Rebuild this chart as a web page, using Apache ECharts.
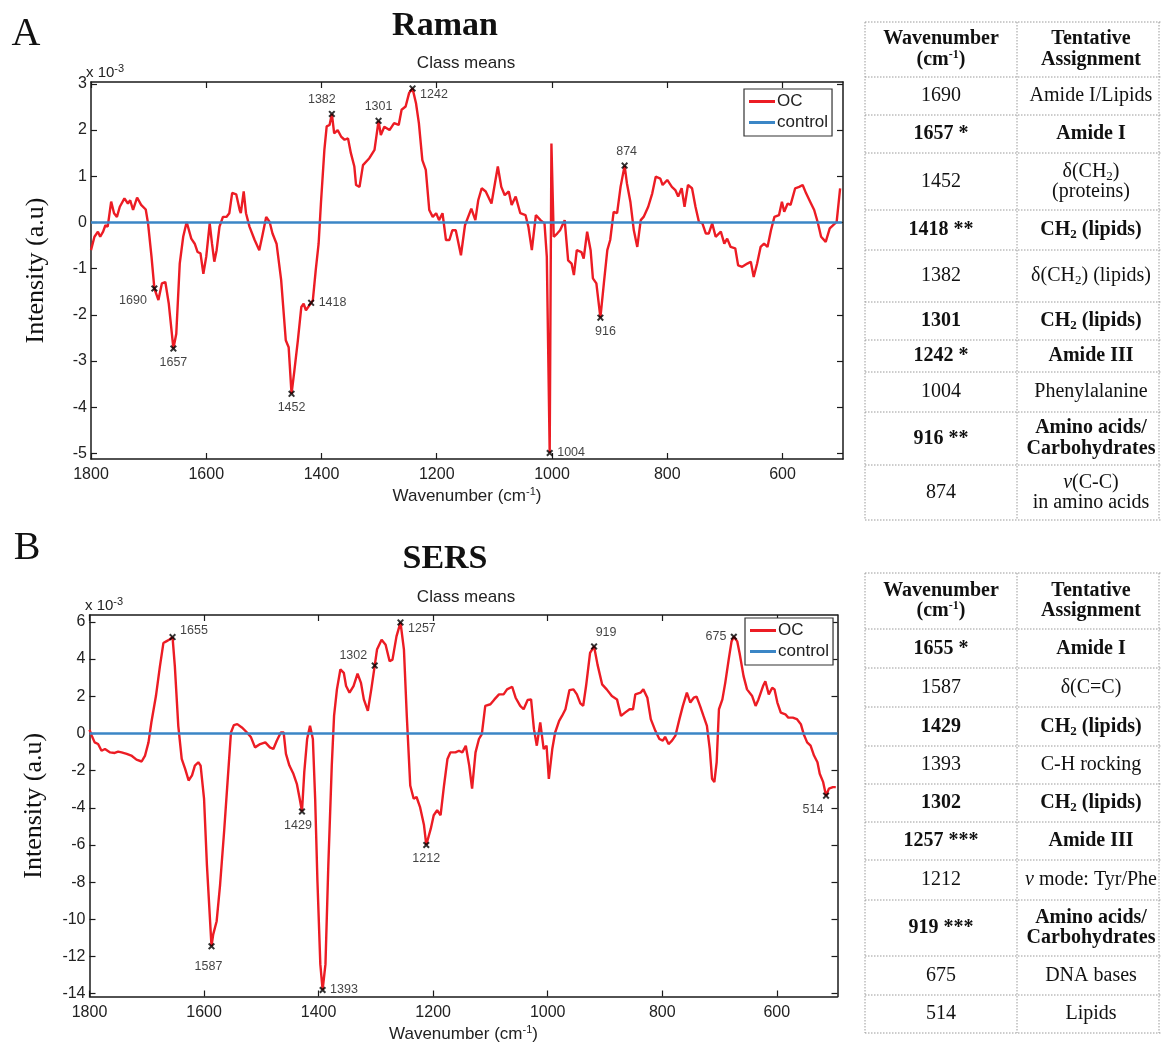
<!DOCTYPE html>
<html><head><meta charset="utf-8">
<script src="https://cdn.jsdelivr.net/npm/echarts@6/dist/echarts.min.js"></script>
<style>html,body{margin:0;padding:0;background:#fff}#c{width:1161px;height:1045px}</style>
</head><body><div id="c"></div>
<script>
// ---------------- DATA ----------------
// Raman class-mean difference (OC), x10^-3
const ramanWn = [1800,1794,1788,1784,1779,1775,1771,1765,1760,1755,1750,1742,1736,1732,1727,1720,1713,1705,1701,1695,1690,1683,1677,1671,1665,1657,1652,1646,1640,1634,1626,1620,1615,1610,1605,1600,1594,1590,1586,1582,1577,1571,1565,1560,1555,1548,1542,1540,1535,1531,1525,1516,1508,1503,1496,1490,1485,1478,1470,1462,1457,1452,1447,1441,1435,1431,1427,1418,1415,1410,1405,1401,1395,1391,1386,1382,1378,1372,1366,1360,1354,1349,1343,1340,1334,1328,1317,1308,1301,1297,1291,1282,1274,1266,1261,1254,1248,1242,1236,1231,1225,1219,1213,1207,1201,1196,1190,1184,1178,1173,1167,1158,1151,1140,1133,1128,1122,1115,1105,1099,1094,1088,1082,1075,1070,1063,1055,1046,1041,1035,1028,1020,1013,1009,1004,1001,997,991,986,978,972,966,962,957,949,945,939,933,929,923,916,910,904,899,893,887,881,874,870,864,858,852,846,841,833,826,820,812,808,800,792,786,781,775,770,764,757,751,745,739,733,728,722,716,707,701,696,690,682,677,670,661,655,650,644,638,632,626,620,614,606,601,597,591,586,578,571,565,559,552,545,539,533,525,518,512,506,500];
const ramanOC = [-0.60,-0.31,-0.20,-0.31,-0.20,-0.06,-0.09,0.45,0.20,0.12,0.34,0.52,0.41,0.48,0.27,0.54,0.38,0.28,-0.02,-0.74,-1.43,-1.68,-1.32,-1.29,-1.76,-2.73,-2.41,-0.89,-0.31,0.01,-0.35,-0.46,-0.64,-0.67,-1.11,-0.74,-0.02,-0.46,-0.85,-0.60,-0.09,0.12,0.12,0.20,0.64,0.61,0.27,0.20,0.67,0.20,-0.09,-0.38,-0.60,-0.31,0.12,0.01,-0.24,-0.46,-1.25,-2.55,-2.70,-3.71,-3.20,-2.55,-1.83,-1.76,-1.90,-1.74,-1.68,-1.03,-0.46,0.41,1.57,2.08,2.11,2.35,1.93,2.00,1.86,1.79,1.82,1.50,1.21,0.81,0.77,1.24,1.39,1.57,2.20,1.89,2.07,2.00,2.15,2.11,2.44,2.51,2.80,2.90,2.58,2.15,1.35,1.14,0.27,0.12,0.20,0.05,0.20,-0.38,-0.38,-0.17,-0.17,-0.71,-0.06,0.30,0.05,0.48,0.74,0.67,0.41,0.85,1.21,0.77,0.59,0.67,0.38,0.56,0.20,0.16,-0.09,-0.60,0.16,0.05,-0.02,-0.74,-4.99,1.71,-0.31,-0.24,-0.17,0.05,-0.82,-0.89,-1.14,-0.60,-0.64,-0.78,-0.20,-0.60,-1.21,-1.32,-2.06,-1.32,-0.60,-0.38,0.23,0.20,0.77,1.23,0.85,0.45,-0.17,-0.53,0.05,0.12,0.34,0.63,0.99,0.95,0.81,0.92,0.77,0.70,0.56,0.74,0.34,0.81,0.74,0.34,0.01,-0.02,-0.24,-0.24,-0.02,-0.31,-0.20,-0.46,-0.35,-0.53,-0.56,-0.93,-0.96,-0.89,-0.85,-1.18,-0.89,-0.53,-0.46,-0.53,-0.17,0.12,0.16,0.45,0.23,0.41,0.38,0.74,0.77,0.81,0.63,0.45,0.27,0.01,-0.31,-0.42,-0.13,-0.06,0.01,0.74];
const ramanControlWn = [1800, 497];
const ramanControl = [0, 0];
const ramanPeakWn = [1690,1657,1452,1418,1382,1301,1242,1004,916,874];
const ramanPeakVal = [-1.43,-2.73,-3.71,-1.74,2.35,2.20,2.90,-4.99,-2.06,1.23];
const ramanYTicks = [-5,-4,-3,-2,-1,0,1,2,3];

// SERS class-mean difference (OC), x10^-3
const sersWn = [1800,1796,1791,1785,1779,1773,1764,1756,1750,1744,1735,1727,1718,1709,1703,1697,1692,1684,1677,1671,1666,1661,1655,1651,1645,1639,1633,1627,1621,1616,1610,1606,1600,1595,1587,1584,1578,1572,1565,1559,1553,1548,1542,1534,1525,1518,1511,1502,1493,1485,1479,1473,1466,1461,1457,1451,1444,1438,1433,1429,1425,1420,1415,1410,1406,1402,1397,1393,1388,1383,1377,1373,1368,1362,1356,1352,1346,1339,1332,1326,1321,1314,1308,1302,1298,1290,1283,1276,1271,1264,1257,1251,1246,1240,1234,1229,1223,1216,1212,1204,1199,1193,1187,1181,1175,1170,1161,1155,1149,1143,1137,1132,1126,1120,1115,1109,1100,1093,1085,1077,1071,1062,1056,1048,1042,1035,1029,1024,1019,1013,1010,1007,1002,998,992,987,980,975,969,962,955,949,943,938,933,926,919,913,905,897,888,879,872,865,857,851,847,838,833,826,820,812,805,799,795,789,783,777,770,764,757,751,745,740,734,728,722,717,713,709,705,701,695,690,684,679,675,669,665,658,652,643,637,632,624,620,614,608,604,599,593,585,580,572,565,558,553,547,541,535,529,525,519,514,509,502,497];
const sersOC = [0.20,-0.12,-0.48,-0.57,-0.93,-0.84,-1.02,-1.05,-0.98,-1.02,-1.10,-1.19,-1.41,-1.51,-1.19,-0.48,0.59,2.01,3.62,4.86,4.95,5.04,5.18,3.62,0.41,-1.37,-1.91,-2.53,-2.26,-1.73,-1.55,-1.73,-3.51,-7.07,-11.45,-10.81,-10.10,-8.14,-5.29,-2.62,0.05,0.45,0.50,0.32,0.05,-0.21,-0.75,-0.57,-0.48,-0.75,-0.84,-0.39,0.05,0.05,-1.10,-1.73,-2.17,-2.71,-3.51,-4.20,-2.08,-0.30,0.41,-0.30,-3.51,-7.96,-12.41,-13.80,-12.41,-7.07,-1.73,0.94,2.37,3.44,3.26,2.55,2.19,2.55,3.22,2.72,1.83,1.21,2.37,3.65,4.51,5.04,4.77,3.88,3.97,5.22,5.97,4.51,0.94,-2.80,-3.51,-3.42,-3.95,-4.93,-6.00,-5.11,-4.40,-4.13,-4.40,-2.80,-1.37,-1.02,-1.02,-0.93,-1.02,-0.66,-1.73,-2.97,-1.02,-0.30,-0.04,1.48,1.57,1.83,2.10,2.10,2.37,2.51,1.92,1.48,1.30,1.80,1.83,0.23,-0.66,0.59,0.68,-0.84,-0.66,-2.44,-0.84,0.05,0.68,0.94,1.30,2.33,2.37,2.10,1.62,1.48,2.55,4.33,4.68,3.70,2.64,2.37,2.01,1.83,0.94,1.12,1.30,1.30,2.10,2.19,2.37,1.92,0.77,0.14,-0.30,-0.39,-0.18,-0.57,-0.39,-0.12,0.77,1.48,2.19,1.66,1.92,1.98,1.48,0.94,0.41,-0.84,-2.44,-2.62,-1.55,1.30,1.83,2.72,3.97,4.95,5.20,4.95,4.33,3.08,2.37,2.01,1.48,1.83,2.55,2.81,2.10,2.46,2.37,1.66,1.12,1.03,0.85,0.85,0.77,0.50,-0.04,-0.48,-0.66,-1.19,-1.55,-2.17,-2.62,-3.35,-2.97,-2.89,-2.89];
const sersControlWn = [1800, 494];
const sersControl = [0, 0];
const sersPeakWn = [1655,1587,1429,1393,1302,1257,1212,919,675,514];
const sersPeakVal = [5.18,-11.45,-4.20,-13.80,3.65,5.97,-6.00,4.68,5.20,-3.35];
const sersYTicks = [-14,-12,-10,-8,-6,-4,-2,0,2,4,6];

const xTicks = [1800,1600,1400,1200,1000,800,600];
const seriesNames = ['OC','control'];

// Tables
const ramanTableWn = ['1690','1657 *','1452','1418 **','1382','1301','1242 *','1004','916 **','874'];
const ramanTableAssign = ['Amide I/Lipids','Amide I','δ(CH{S|2})\n(proteins)','CH{S|2} (lipids)','δ(CH{S|2}) (lipids)','CH{S|2} (lipids)','Amide III','Phenylalanine','Amino acids/\nCarbohydrates','{I|v}(C-C)\nin amino acids'];
const ramanTableBold = [false,true,false,true,false,true,true,false,true,false];
const sersTableWn = ['1655 *','1587','1429','1393','1302','1257 ***','1212','919 ***','675','514'];
const sersTableAssign = ['Amide I','δ(C=C)','CH{S|2} (lipids)','C-H rocking','CH{S|2} (lipids)','Amide III','{I|v} mode: Tyr/Phe','Amino acids/\nCarbohydrates','DNA bases','Lipids'];
const sersTableBold = [true,false,true,false,true,true,false,true,false,false];
const tableHeader = ['Wavenumber\n(cm{P|-1})','Tentative\nAssignment'];

// ---------------- LAYOUT / STYLE ----------------
const SANS = '"Liberation Sans", Arial, Helvetica, sans-serif';
const SERIF = '"Liberation Serif", "Times New Roman", Times, serif';
const RED = '#ec1c24';
const BLUE = '#3b86c6';
const AX = '#1a1a1a';
const XPATH = 'path://M0,2L2,0L5,3L8,0L10,2L7,5L10,8L8,10L5,7L2,10L0,8L3,5Z';

const ramanLabelPlace = [['left',[0,12]],['bottom',[0,0]],['bottom',[0,0]],['right',[0,0]],['top',[-10,0]],['top',[0,0]],['right',[0,6]],['right',[0,0]],['bottom',[5,0]],['top',[2,0]]];
const sersLabelPlace = [['right',[0,-7]],['bottom',[-3,6]],['bottom',[-4,0]],['right',[0,0]],['left',[0,-10]],['right',[0,6]],['bottom',[0,0]],['top',[12,0]],['left',[0,0]],['bottom',[-13,0]]];

const grids = [
  {left: 91, top: 82, width: 752, height: 377},
  {left: 89.5, top: 615, width: 748, height: 384}
];
const xRanges = [[495, 1800], [494, 1800]];
const yRanges = [[-5.12, 3.04], [-14.15, 6.37]];
const yTicksAll = [ramanYTicks, sersYTicks];

const xAxis = [], yAxis = [];
for (let g = 0; g < 2; g++) {
  const lineStyle = {color: AX, width: 1.5};
  xAxis.push({
    type: 'value', gridIndex: g, min: xRanges[g][0], max: xRanges[g][1], inverse: true, position: 'bottom',
    axisLine: {show: true, onZero: false, lineStyle},
    axisTick: {show: true, inside: true, length: 6, customValues: xTicks, lineStyle: {color: AX, width: 1.2}},
    axisLabel: {customValues: xTicks, formatter: v => String(v), fontSize: 16, fontFamily: SANS, color: '#222', margin: 8},
    splitLine: {show: false},
    name: 'Wavenumber (cm{p|-1})', nameLocation: 'middle', nameGap: 29,
    nameTextStyle: {fontSize: 17, fontFamily: SANS, color: '#222',
      rich: {p: {fontSize: 11, fontFamily: SANS, color: '#222', padding: [0, 0, 9, 0], lineHeight: 10}}}
  });
  xAxis.push({
    type: 'value', gridIndex: g, min: xRanges[g][0], max: xRanges[g][1], inverse: true, position: 'top',
    axisLine: {show: true, onZero: false, lineStyle},
    axisTick: {show: true, inside: true, length: 6, customValues: xTicks, lineStyle: {color: AX, width: 1.2}},
    axisLabel: {show: false}, splitLine: {show: false}
  });
  yAxis.push({
    type: 'value', gridIndex: g, min: yRanges[g][0], max: yRanges[g][1], position: 'left',
    axisLine: {show: true, onZero: false, lineStyle},
    axisTick: {show: true, inside: true, length: 6, customValues: yTicksAll[g], lineStyle: {color: AX, width: 1.2}},
    axisLabel: {customValues: yTicksAll[g], formatter: v => String(v), fontSize: 16, fontFamily: SANS, color: '#222', margin: 4},
    splitLine: {show: false},
    name: 'Intensity (a.u)', nameLocation: 'middle', nameGap: 42,
    nameTextStyle: {fontSize: 26, fontFamily: SERIF, color: '#111'}
  });
  yAxis.push({
    type: 'value', gridIndex: g, min: yRanges[g][0], max: yRanges[g][1], position: 'right',
    axisLine: {show: true, onZero: false, lineStyle},
    axisTick: {show: true, inside: true, length: 6, customValues: yTicksAll[g], lineStyle: {color: AX, width: 1.2}},
    axisLabel: {show: false}, splitLine: {show: false}
  });
}

function lineSeries(name, wn, vals, axisIdx, color) {
  return {
    type: 'line', name, xAxisIndex: axisIdx, yAxisIndex: axisIdx,
    data: wn.map((w, i) => [w, vals[i]]),
    showSymbol: false, symbol: 'none', animation: false,
    lineStyle: {color, width: 2.4}, itemStyle: {color}, z: 3
  };
}
function peakSeries(wn, vals, places, axisIdx) {
  return {
    type: 'scatter', xAxisIndex: axisIdx, yAxisIndex: axisIdx, symbol: XPATH, symbolSize: 7,
    itemStyle: {color: '#000'}, z: 10, animation: false, silent: true,
    label: {show: true, formatter: p => String(p.value[0]), fontSize: 12.5, fontFamily: SANS, color: '#111', distance: 4},
    data: wn.map((w, i) => ({value: [w, vals[i]], label: {position: places[i][0], offset: places[i][1]}}))
  };
}

const series = [
  lineSeries(seriesNames[0], ramanWn, ramanOC, 0, RED),
  lineSeries(seriesNames[1], ramanControlWn, ramanControl, 0, BLUE),
  peakSeries(ramanPeakWn, ramanPeakVal, ramanLabelPlace, 0),
  lineSeries(seriesNames[0], sersWn, sersOC, 2, RED),
  lineSeries(seriesNames[1], sersControlWn, sersControl, 2, BLUE),
  peakSeries(sersPeakWn, sersPeakVal, sersLabelPlace, 2)
];

function legendAt(left, top) {
  return {
    data: seriesNames, left, top, orient: 'vertical', selectedMode: false,
    icon: 'rect', itemWidth: 26, itemHeight: 3, itemGap: 4,
    padding: [4, 4, 5, 5], borderColor: '#333', borderWidth: 1.2, backgroundColor: '#fff',
    textStyle: {fontSize: 17, fontFamily: SANS, color: '#222', padding: [0, 0, 0, -3]}
  };
}

// ---------------- GRAPHIC (titles, tables) ----------------
const graphic = [];
function txt(x, y, text, fontSize, family, weight, extra) {
  graphic.push({type: 'text', x, y, silent: true, z: 50,
    style: Object.assign({text, align: 'center', verticalAlign: 'middle', fontSize, fontFamily: family,
      fontWeight: weight || 'normal', fill: '#111'}, extra || {})});
}
txt(26, 34, 'A', 40, SERIF);
txt(445, 26, 'Raman', 34, SERIF, 'bold');
txt(466, 63, 'Class means', 17, SANS, 'normal', {fill: '#222'});
txt(27, 548, 'B', 40, SERIF);
txt(445, 559, 'SERS', 34, SERIF, 'bold');
txt(466, 597, 'Class means', 17, SANS, 'normal', {fill: '#222'});
const supRich = {p: {fontSize: 11, fontFamily: SANS, fill: '#222', padding: [0, 0, 9, 0], lineHeight: 10}};
graphic.push({type: 'text', x: 86, y: 73, silent: true, style: {text: 'x 10{p|-3}', align: 'left', verticalAlign: 'middle', fontSize: 15, fontFamily: SANS, fill: '#222', rich: supRich}});
graphic.push({type: 'text', x: 85, y: 606, silent: true, style: {text: 'x 10{p|-3}', align: 'left', verticalAlign: 'middle', fontSize: 15, fontFamily: SANS, fill: '#222', rich: supRich}});

function dotted(x1, y1, x2, y2) {
  graphic.push({type: 'line', silent: true, z: 40, shape: {x1, y1, x2, y2},
    style: {stroke: '#9a9a9a', lineWidth: 1, lineDash: [1.5, 1.5]}});
}
function richFor(bold) {
  const w = bold ? 'bold' : 'normal';
  return {
    S: {fontSize: 13, fontFamily: SERIF, fontWeight: w, fill: '#111', padding: [10, 0, 0, 0], lineHeight: 11},
    P: {fontSize: 12, fontFamily: SERIF, fontWeight: w, fill: '#111', padding: [0, 0, 10, 0], lineHeight: 10},
    I: {fontSize: 20, fontFamily: SERIF, fontWeight: w, fontStyle: 'italic', fill: '#111', lineHeight: 20}
  };
}
function cell(x, y, text, bold) {
  graphic.push({type: 'text', x, y, silent: true, z: 45,
    style: {text, align: 'center', verticalAlign: 'middle', fontSize: 20, lineHeight: 20.5,
      fontFamily: SERIF, fontWeight: bold ? 'bold' : 'normal', fill: '#111', rich: richFor(bold)}});
}
const colX = [865, 1017, 1159];
const colC = [941, 1091];
function table(rowsY, wn, assign, bold) {
  for (const y of rowsY) dotted(colX[0], y, 1161, y);
  for (const x of colX) dotted(x, rowsY[0], x, rowsY[rowsY.length - 1]);
  const hy = (rowsY[0] + rowsY[1]) / 2;
  cell(colC[0], hy, tableHeader[0], true);
  cell(colC[1], hy, tableHeader[1], true);
  for (let i = 0; i < wn.length; i++) {
    const cy = (rowsY[i + 1] + rowsY[i + 2]) / 2;
    cell(colC[0], cy, wn[i], bold[i]);
    cell(colC[1], cy, assign[i], bold[i]);
  }
}
table([22, 77, 115, 153, 210, 250, 302, 340, 372, 412, 465, 520], ramanTableWn, ramanTableAssign, ramanTableBold);
table([573, 629, 668, 707, 746, 784, 822, 860, 900, 956, 995, 1033], sersTableWn, sersTableAssign, sersTableBold);

const option = {
  backgroundColor: '#fff',
  animation: false,
  grid: grids,
  xAxis, yAxis, series,
  legend: [legendAt(744, 89), legendAt(745, 618)],
  graphic
};
const chart = echarts.init(document.getElementById('c'), null, {renderer: 'canvas'});
chart.setOption(option);
</script></body></html>
